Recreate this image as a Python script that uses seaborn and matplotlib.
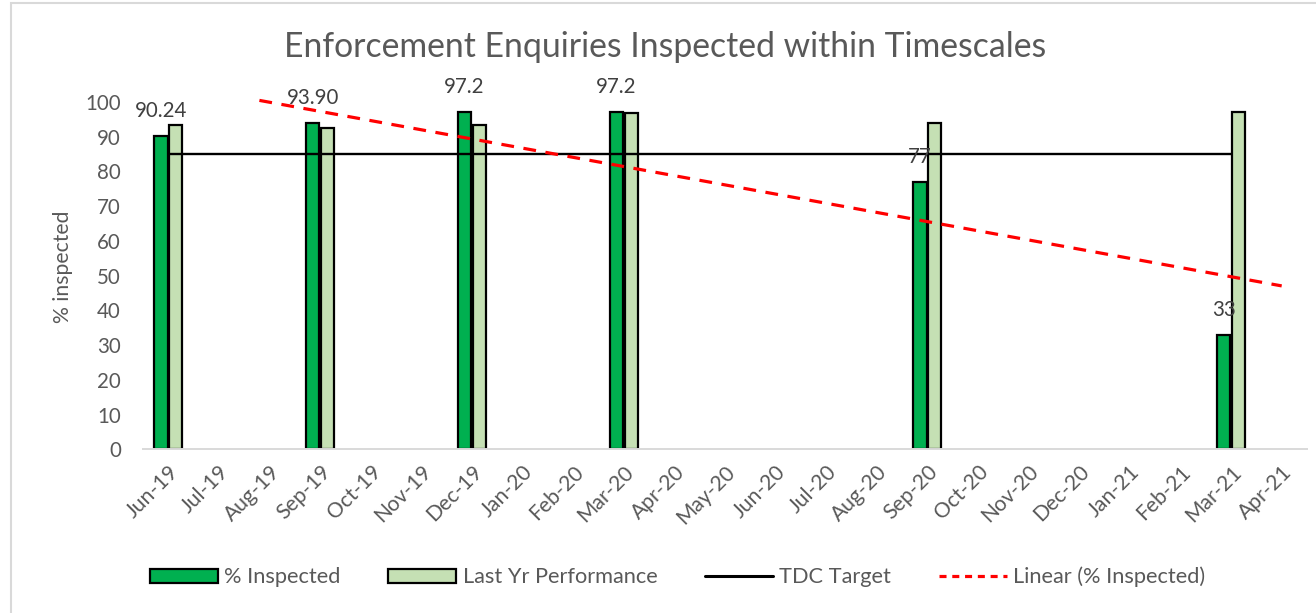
import numpy as np
import pandas as pd
import matplotlib
matplotlib.use("Agg")
import matplotlib.pyplot as plt
import seaborn as sns
from matplotlib.patches import Patch, Rectangle
from matplotlib.lines import Line2D

# ---------------- data ----------------
months = ["Jun-19", "Jul-19", "Aug-19", "Sep-19", "Oct-19", "Nov-19", "Dec-19",
          "Jan-20", "Feb-20", "Mar-20", "Apr-20", "May-20", "Jun-20", "Jul-20",
          "Aug-20", "Sep-20", "Oct-20", "Nov-20", "Dec-20", "Jan-21", "Feb-21",
          "Mar-21", "Apr-21"]
report_months = ["Jun-19", "Sep-19", "Dec-19", "Mar-20", "Sep-20", "Mar-21"]
pct_inspected = [90.24, 93.90, 97.2, 97.2, 77, 33]
last_yr_performance = [93.4, 92.6, 93.4, 96.7, 93.9, 97.2]
value_labels = ["90.24", "93.90", "97.2", "97.2", "77", "33"]
target_months = months[:22]          # Jun-19 .. Mar-21
target_values = [85] * len(target_months)
y_ticks = list(range(0, 101, 10))

series_names = ["% Inspected", "Last Yr Performance"]
title = "Enforcement Enquiries Inspected within Timescales"
y_label = "% inspected"

# ---------------- style ----------------
DARK = "#00B050"
LIGHT = "#C5E0B4"
TXT = "#595959"
GRID = "#D9D9D9"

sns.set_theme(style="white")
plt.rcParams["font.family"] = ["Lato", "DejaVu Sans"]

W, H = 1316, 613
fig = plt.figure(figsize=(W / 100, H / 100), dpi=100)
ax_left, ax_right, ax_top, ax_bottom = 143, 1307, 102, 449.3
ax = fig.add_axes([ax_left / W, 1 - ax_bottom / H,
                   (ax_right - ax_left) / W, (ax_bottom - ax_top) / H])

df = pd.DataFrame({
    "month": report_months * 2,
    "series": [series_names[0]] * len(report_months) + [series_names[1]] * len(report_months),
    "value": pct_inspected + last_yr_performance,
})

sns.barplot(data=df, x="month", y="value", hue="series", order=months,
            hue_order=series_names, palette=[DARK, LIGHT], saturation=1,
            width=0.58, gap=0.1, edgecolor="black", linewidth=1.6,
            errorbar=None, legend=False, ax=ax, zorder=2)

# target line
tx = [months.index(m) for m in target_months]
ax.plot(tx, target_values, color="black", lw=1.7, zorder=3, solid_capstyle="butt")

# linear trend of % inspected (fitted on month positions)
xs = np.array([months.index(m) for m in report_months], dtype=float)
slope, intercept = np.polyfit(xs, np.array(pct_inspected), 1)
trend_x = np.array([1.8, 22.0])
ax.plot(trend_x, slope * trend_x + intercept, color="#FF0000", lw=2.3,
        linestyle=(0, (4, 3)), zorder=4, clip_on=False)

# data labels on the % Inspected bars
dark_container = ax.containers[0]
for patch, lab in zip([p for p in dark_container if not np.isnan(p.get_height())], value_labels):
    cx = patch.get_x() + patch.get_width() / 2
    ax.annotate(lab, (cx, patch.get_height()), xytext=(0, 18),
                textcoords="offset points", ha="center", va="center",
                fontsize=14.8, color="#404040", zorder=5, annotation_clip=False)

# axes styling
ax.set_xlim(-0.5, len(months) - 0.5)
ax.set_ylim(0, 100)
ax.set_yticks(y_ticks)
ax.set_xticks(range(len(months)))
ax.set_xticklabels(months, rotation=45, ha="right", rotation_mode="anchor")
ax.set_xticks(np.arange(-0.5, len(months), 1.0), minor=True)
ax.tick_params(axis="x", which="major", length=0, pad=9, labelsize=15.2, labelcolor=TXT)
ax.tick_params(axis="x", which="minor", length=5.5, width=1.2, color=GRID, direction="out")
ax.tick_params(axis="y", length=0, pad=16, labelsize=14.8, labelcolor=TXT)
ax.set_xlabel("")
ax.set_ylabel("")
for s in ["top", "right", "left"]:
    ax.spines[s].set_visible(False)
ax.spines["bottom"].set_color(GRID)
ax.spines["bottom"].set_linewidth(1.4)
ax.grid(False)

fig.text(63 / W, 1 - 267 / H, y_label, rotation=90, ha="center", va="center",
         fontsize=15.2, color=TXT)
fig.text(665 / W, 1 - 47 / H, title, ha="center", va="center", fontsize=24.3, color=TXT)

# legend
handles = [Patch(facecolor=DARK, edgecolor="black", linewidth=1.6),
           Patch(facecolor=LIGHT, edgecolor="black", linewidth=1.6),
           Line2D([], [], color="black", lw=2.2),
           Line2D([], [], color="#FF0000", lw=2.3, linestyle=(0, (2.2, 1.8)))]
labels = series_names + ["TDC Target", "Linear (% Inspected)"]
leg = fig.legend(handles, labels, loc="center", bbox_to_anchor=(0.515, 1 - 577 / H),
                 ncol=4, frameon=False, fontsize=15.7, handlelength=3.1,
                 handleheight=0.6, handletextpad=0.3, columnspacing=2.2, labelcolor=TXT)

# chart frame
fig.patches.append(Rectangle((11 / W, -0.05), 1.2, 1.05 - 3 / H, transform=fig.transFigure,
                             fill=False, edgecolor=GRID, lw=1.5, zorder=0))

fig.savefig("out.png", dpi=100)
